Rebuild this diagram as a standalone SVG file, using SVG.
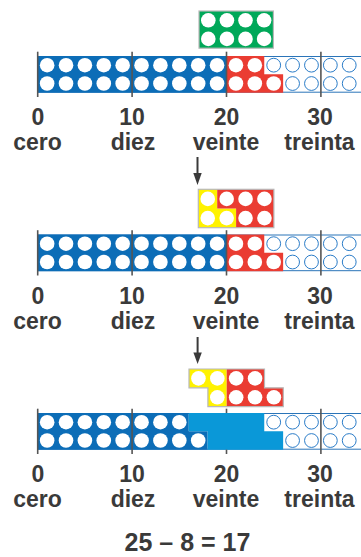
<svg xmlns="http://www.w3.org/2000/svg" xmlns:xlink="http://www.w3.org/1999/xlink" width="361" height="557" viewBox="0 0 361 557">
<style>
.t{font-family:"Liberation Sans",Arial,sans-serif;font-weight:bold;fill:#3a3a3a;text-anchor:middle}
.n{font-size:23px}
.w{font-size:23px}
.eq{font-size:25px}
.edge{stroke:#2a74b8;stroke-width:1;fill:none}
.tick{stroke:#555;stroke-width:1.6}
.brd{fill:none;stroke:#b8b8b8;stroke-width:1.2}
.blue{fill:#0c6db7}
.lblue{fill:#0a98d8}
.red{fill:#ea3c32}
.green{fill:#00a859}
.yellow{fill:#fff200}
.arr{stroke:#3a3a3a;stroke-width:2}
.arrh{fill:#3a3a3a}
</style>
<defs>
<circle id="wc" r="7.3" fill="#ffffff"/>
<circle id="oc" r="6.9" fill="#ffffff" stroke="#2a7cc8" stroke-width="1"/>
<g id="empty">
<use xlink:href="#oc" x="273.7" y="9.18"/><use xlink:href="#oc" x="292.58" y="9.18"/><use xlink:href="#oc" x="311.46" y="9.18"/><use xlink:href="#oc" x="330.34" y="9.18"/><use xlink:href="#oc" x="349.22" y="9.18"/>
<use xlink:href="#oc" x="292.58" y="27.53"/><use xlink:href="#oc" x="311.46" y="27.53"/><use xlink:href="#oc" x="330.34" y="27.53"/><use xlink:href="#oc" x="349.22" y="27.53"/>
</g>
<g id="row10t">
<use xlink:href="#wc" x="47.14" y="9.18"/><use xlink:href="#wc" x="66.02" y="9.18"/><use xlink:href="#wc" x="84.9" y="9.18"/><use xlink:href="#wc" x="103.78" y="9.18"/><use xlink:href="#wc" x="122.66" y="9.18"/><use xlink:href="#wc" x="141.54" y="9.18"/><use xlink:href="#wc" x="160.42" y="9.18"/><use xlink:href="#wc" x="179.3" y="9.18"/>
</g>
<g id="bar25">
<line class="edge" x1="37.7" y1="0.5" x2="361" y2="0.5"/>
<line class="edge" x1="37.7" y1="36.2" x2="361" y2="36.2"/>
<rect class="blue" x="37.7" y="0" width="188.8" height="36.7"/>
<path class="red" d="M226.5,0H264.26V18.35H283.14V36.7H226.5Z"/>
<use xlink:href="#row10t"/>
<use xlink:href="#wc" x="198.18" y="9.18"/><use xlink:href="#wc" x="217.06" y="9.18"/>
<use xlink:href="#row10t" y="18.35"/>
<use xlink:href="#wc" x="198.18" y="27.53"/><use xlink:href="#wc" x="217.06" y="27.53"/>
<use xlink:href="#wc" x="235.94" y="9.18"/><use xlink:href="#wc" x="254.82" y="9.18"/>
<use xlink:href="#wc" x="235.94" y="27.53"/><use xlink:href="#wc" x="254.82" y="27.53"/><use xlink:href="#wc" x="273.7" y="27.53"/>
<use xlink:href="#empty"/>
<line class="tick" x1="37.7" y1="-4.3" x2="37.7" y2="41"/>
<line class="tick" x1="132.1" y1="-4.3" x2="132.1" y2="41"/>
<line class="tick" x1="226.5" y1="-4.3" x2="226.5" y2="41"/>
<line class="tick" x1="320.9" y1="-4.3" x2="320.9" y2="41"/>
</g>
<g id="labels">
<text class="t n" x="38" y="0">0</text>
<text class="t n" x="132" y="0">10</text>
<text class="t n" x="226.5" y="0">20</text>
<text class="t n" x="320" y="0">30</text>
<text class="t w" x="37.5" y="25">cero</text>
<text class="t w" x="133" y="25">diez</text>
<text class="t w" x="226" y="25">veinte</text>
<text class="t w" x="319.5" y="25">treinta</text>
</g>
</defs>

<g id="connectors">
<line class="arr" x1="197.5" y1="157" x2="197.5" y2="176"/>
<polygon class="arrh" points="193.3,173 201.7,173 197.5,185"/>
<line class="arr" x1="197.6" y1="337" x2="197.6" y2="355"/>
<polygon class="arrh" points="193.4,352.5 201.8,352.5 197.6,364"/>
</g>

<g id="green-block">
<rect class="green" x="199" y="11" width="74.4" height="37.2"/>
<rect class="brd" x="199" y="11" width="74.4" height="37.2"/>
<use xlink:href="#wc" x="208.3" y="20.3"/><use xlink:href="#wc" x="226.9" y="20.3"/><use xlink:href="#wc" x="245.5" y="20.3"/><use xlink:href="#wc" x="264.1" y="20.3"/>
<use xlink:href="#wc" x="208.3" y="38.9"/><use xlink:href="#wc" x="226.9" y="38.9"/><use xlink:href="#wc" x="245.5" y="38.9"/><use xlink:href="#wc" x="264.1" y="38.9"/>
</g>

<g id="bar-1" transform="translate(0,56)"><use xlink:href="#bar25"/></g>
<g id="labels-1" transform="translate(0,125)"><use xlink:href="#labels"/></g>

<g id="block-2">
<path class="yellow" d="M198.3,189.3H217.2V208.5H236.1V227.7H198.3Z"/>
<path class="red" d="M217.2,189.3H273.9V227.7H236.1V208.5H217.2Z"/>
<rect class="brd" x="198.3" y="189.3" width="75.6" height="38.4"/>
<use xlink:href="#wc" x="207.75" y="198.9"/><use xlink:href="#wc" x="226.65" y="198.9"/><use xlink:href="#wc" x="245.55" y="198.9"/><use xlink:href="#wc" x="264.45" y="198.9"/>
<use xlink:href="#wc" x="207.75" y="218.1"/><use xlink:href="#wc" x="226.65" y="218.1"/><use xlink:href="#wc" x="245.55" y="218.1"/><use xlink:href="#wc" x="264.45" y="218.1"/>
</g>

<g id="bar-2" transform="translate(0,234.5)"><use xlink:href="#bar25"/></g>
<g id="labels-2" transform="translate(0,303.5)"><use xlink:href="#labels"/></g>

<g id="block-3">
<path class="yellow" d="M189,369H226.7V406.7H207.9V387.85H189Z"/>
<path class="red" d="M226.7,369H264.5V387.85H283.3V406.7H226.7Z"/>
<path class="brd" d="M189,369H264.5V387.85H283.3V406.7H207.9V387.85H189Z"/>
<use xlink:href="#wc" x="198.45" y="378.4"/><use xlink:href="#wc" x="217.3" y="378.4"/><use xlink:href="#wc" x="217.3" y="397.3"/>
<use xlink:href="#wc" x="236.15" y="378.4"/><use xlink:href="#wc" x="255.05" y="378.4"/>
<use xlink:href="#wc" x="236.15" y="397.3"/><use xlink:href="#wc" x="255.05" y="397.3"/><use xlink:href="#wc" x="273.9" y="397.3"/>
</g>

<g id="bar-3" transform="translate(0,413)">
<line class="edge" x1="37.7" y1="0.5" x2="361" y2="0.5"/>
<line class="edge" x1="37.7" y1="36.2" x2="361" y2="36.2"/>
<path class="blue" d="M37.7,0H188.74V18.35H207.62V36.7H37.7Z"/>
<path class="lblue" d="M188.74,0H264.26V18.35H283.14V36.7H207.62V18.35H188.74Z"/>
<use xlink:href="#row10t"/>
<use xlink:href="#row10t" y="18.35"/>
<use xlink:href="#wc" x="198.18" y="27.53"/>
<use xlink:href="#empty"/>
<line class="tick" x1="37.7" y1="-4.3" x2="37.7" y2="41"/>
<line class="tick" x1="132.1" y1="-4.3" x2="132.1" y2="41"/>
<line class="tick" x1="226.5" y1="-4.3" x2="226.5" y2="0"/>
<line class="tick" x1="226.5" y1="36.7" x2="226.5" y2="41"/>
<line class="tick" x1="320.9" y1="-4.3" x2="320.9" y2="41"/>
</g>
<g id="labels-3" transform="translate(0,482)"><use xlink:href="#labels"/></g>

<text id="equation" class="t eq" x="187.5" y="551">25 – 8 = 17</text>
</svg>
